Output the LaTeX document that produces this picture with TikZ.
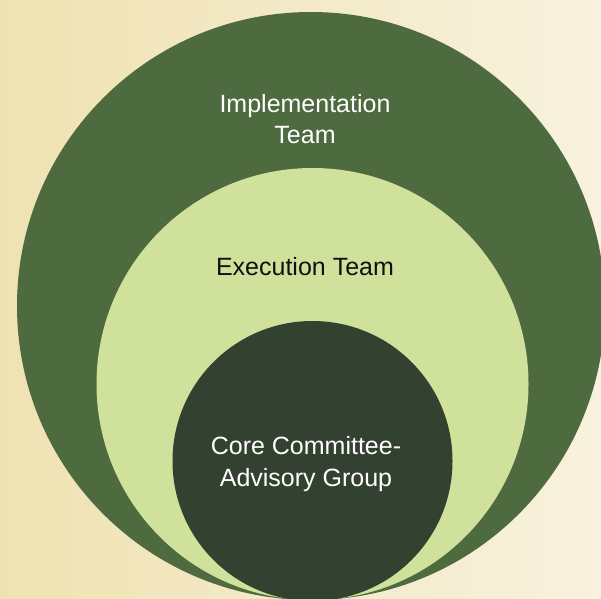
\documentclass[tikz,border=0pt]{standalone}
\usepackage{fontspec}
\setmainfont{Liberation Sans}
\definecolor{bgL}{RGB}{239,226,178}
\definecolor{bgR}{RGB}{248,242,222}
\definecolor{outerG}{RGB}{78,106,63}
\definecolor{midG}{RGB}{208,225,155}
\definecolor{innerG}{RGB}{51,65,48}
\definecolor{darktxt}{RGB}{17,17,17}
\begin{document}
\begin{tikzpicture}[x=1pt,y=-1pt,
  ring/.style={circle,inner sep=0pt,draw=none},
  lbl/.style={align=center,font=\fontsize{25}{31.5}\selectfont}]
\useasboundingbox (0,0) rectangle (601,598);
\clip (0,0) rectangle (601,598);
\shade[left color=bgL,right color=bgR] (0,0) rectangle (601,598);
\node[ring,fill=outerG,minimum size=588] (outer) at (311,306) {};
\node[ring,fill=midG,minimum size=432] (middle) at (312.5,384) {};
\node[ring,fill=innerG,minimum size=280] (inner) at (312.5,461) {};
\node[lbl,text=white] (impl) at (305,119) {Implementation\\Team};
\node[lbl,text=darktxt] (exec) at (305,267) {Execution Team};
\node[lbl,text=white] (core) at (306,464) {Core Committee-\\Advisory Group};
\end{tikzpicture}
\end{document}
